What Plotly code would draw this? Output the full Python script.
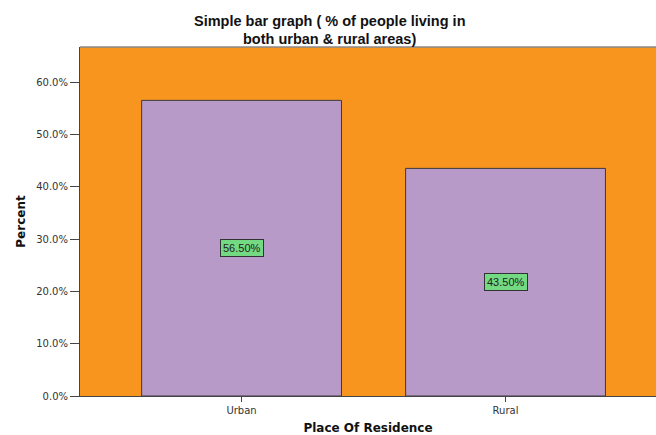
import plotly.graph_objects as go

# Share of respondents by place of residence
categories = ["Urban", "Rural"]
percents = [56.5, 43.5]
label_texts = ["56.50%", "43.50%"]
y_ticks = [0, 10, 20, 30, 40, 50, 60]
y_tick_labels = ["0.0%", "10.0%", "20.0%", "30.0%", "40.0%", "50.0%", "60.0%"]
title_lines = ["Simple bar graph ( % of people living in", "both urban &amp; rural areas)"]

positions = list(range(len(categories)))

fig = go.Figure()
fig.add_trace(go.Bar(
    x=positions,
    y=percents,
    width=0.757,
    marker=dict(color="#B89AC8", line=dict(color="#3a3a3a", width=1)),
    hoverinfo="skip",
))

# value labels in green boxes at mid-height of each bar
for pos, val, txt in zip(positions, percents, label_texts):
    fig.add_annotation(
        x=pos, y=val / 2, text=txt, showarrow=False,
        font=dict(family="Liberation Sans, Arial", size=11, color="#222222"),
        bgcolor="#74D983", bordercolor="#333333", borderwidth=1, borderpad=2,
    )

# chart title: two tightly spaced lines above the frame
for line, shift in zip(title_lines, [26, 8]):
    fig.add_annotation(
        xref="paper", yref="paper", x=0.434, y=1, xanchor="center", yanchor="middle",
        yshift=shift, showarrow=False, text=f"<b>{line}</b>", borderpad=0,
        font=dict(family="Liberation Sans, Arial", size=14.5, color="#111111"),
    )

# top border of the plot frame
fig.add_shape(type="line", xref="paper", yref="paper", x0=0, x1=1, y0=1, y1=1,
              line=dict(color="#8a8a8a", width=1.5))

fig.update_layout(
    width=656, height=435,
    margin=dict(l=80, r=0, t=47, b=39),
    paper_bgcolor="white",
    plot_bgcolor="#F7951E",
    showlegend=False,
    xaxis=dict(
        range=[-0.612, 1.57],
        tickmode="array", tickvals=positions, ticktext=categories,
        ticks="outside", ticklen=5, tickcolor="#444444",
        showline=True, linecolor="#444444", linewidth=1,
        showgrid=False, zeroline=False,
        tickfont=dict(family="DejaVu Sans", size=10, color="#333333"),
        title=dict(text="<b>Place Of Residence</b>", standoff=8,
                   font=dict(family="DejaVu Sans", size=12, color="#111111")),
    ),
    yaxis=dict(
        range=[0, 66.7],
        tickmode="array", tickvals=y_ticks, ticktext=y_tick_labels,
        ticks="outside", ticklen=9, tickcolor="#444444",
        showline=True, linecolor="#444444", linewidth=1,
        showgrid=False, zeroline=False,
        tickfont=dict(family="DejaVu Sans", size=10, color="#333333"),
        title=dict(text="<b>Percent</b>", standoff=8,
                   font=dict(family="DejaVu Sans", size=12, color="#111111")),
    ),
)

fig.write_html("out.html")
